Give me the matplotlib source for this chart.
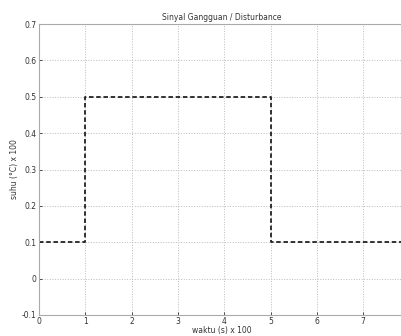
import matplotlib
matplotlib.use("Agg")
import matplotlib.pyplot as plt

# disturbance signal (step up at t=1, back down at t=5)
waktu = [0, 1, 1, 5, 5, 7.9]
suhu = [0.1, 0.1, 0.5, 0.5, 0.1, 0.1]

x_ticks = [0, 1, 2, 3, 4, 5, 6, 7]
y_ticks = [-0.1, 0, 0.1, 0.2, 0.3, 0.4, 0.5, 0.6, 0.7]
y_labels = ["-0.1", "0", "0.1", "0.2", "0.3", "0.4", "0.5", "0.6", "0.7"]

fig = plt.figure(figsize=(4.02, 3.36), dpi=100)
ax = fig.add_axes([0.097, 0.0625, 0.91, 0.866])

ax.plot(waktu, suhu, color="#222222", linestyle="--", linewidth=1.3, dashes=(2.5, 1.5))

ax.set_xlim(0, 7.9)
ax.set_ylim(-0.1, 0.7)
ax.set_xticks(x_ticks)
ax.set_yticks(y_ticks)
ax.set_yticklabels(y_labels)
ax.grid(True, linestyle=":", color="#bbbbbb", linewidth=0.7)

for s in ax.spines.values():
    s.set_color("#aaaaaa")
    s.set_linewidth(0.8)
ax.tick_params(direction="in", labelsize=5.5, colors="#333333", length=2, width=0.6, pad=2)
ax.tick_params(axis="x", pad=1.5)

ax.set_title("Sinyal Gangguan / Disturbance", fontsize=5.5, color="#333333", pad=3)
ax.set_xlabel("waktu (s) x 100", fontsize=5.5, color="#333333", labelpad=0)
ax.set_ylabel("suhu (°C) x 100", fontsize=5.5, color="#333333", labelpad=2)

fig.savefig("out.png", dpi=100)
